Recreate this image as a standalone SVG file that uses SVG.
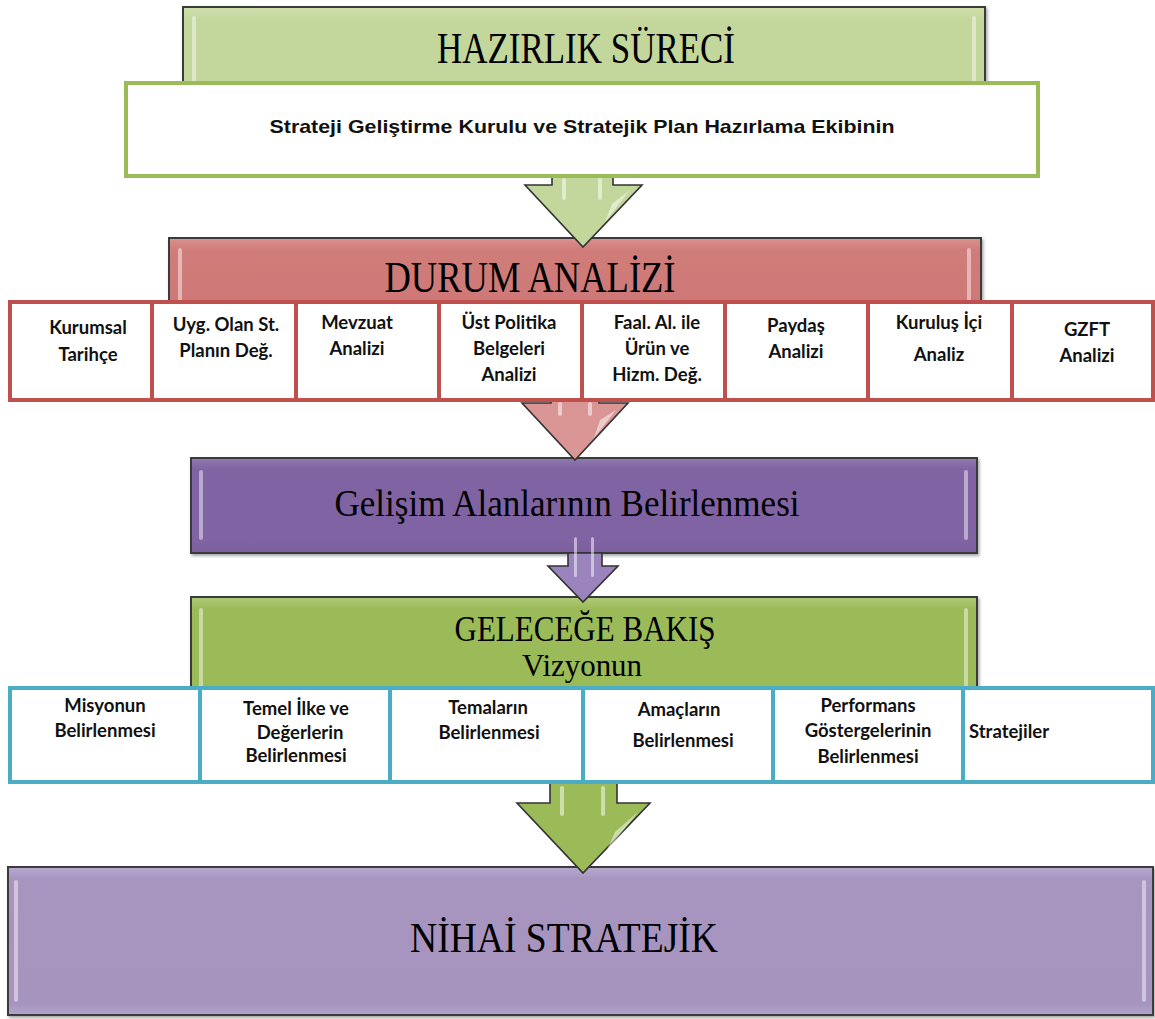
<svg xmlns="http://www.w3.org/2000/svg" width="1155" height="1019" viewBox="0 0 1155 1019">
<defs>
<style>
.title{font-family:"Liberation Serif","DejaVu Serif",serif;fill:#000;text-anchor:middle}
.lbl{font-family:Lato,"Open Sans",sans-serif;font-weight:700;font-size:18.5px;fill:#111}
.mainbox{stroke:#3a3a3a;stroke-width:2}
.hl{fill:#fff;opacity:.45}
.redcell{fill:#fff;stroke:#c0504d;stroke-width:4}
.cyancell{fill:#fff;stroke:#4bacc6;stroke-width:4}
.arrow{stroke:#333;stroke-width:1.6;stroke-linejoin:miter}
.shine{fill:#fff;opacity:.5}
</style>
<filter id="sh" x="-5%" y="-10%" width="110%" height="130%">
<feDropShadow dx="1.5" dy="2" stdDeviation="1.5" flood-opacity="0.35"/>
</filter>
<linearGradient id="gTop" x1="0" y1="0" x2="0" y2="1"><stop offset="0" stop-color="#d0e0ad"/><stop offset=".15" stop-color="#c3d69b"/><stop offset="1" stop-color="#c3d69b"/></linearGradient>
<linearGradient id="gRed" x1="0" y1="0" x2="0" y2="1"><stop offset="0" stop-color="#da9290"/><stop offset=".15" stop-color="#d07c7a"/><stop offset="1" stop-color="#cd7876"/></linearGradient>
<linearGradient id="gPur" x1="0" y1="0" x2="0" y2="1"><stop offset="0" stop-color="#9079b0"/><stop offset=".12" stop-color="#8064a2"/><stop offset=".88" stop-color="#8064a2"/><stop offset="1" stop-color="#7a5e9b"/></linearGradient>
<linearGradient id="gGrn" x1="0" y1="0" x2="0" y2="1"><stop offset="0" stop-color="#aecb76"/><stop offset=".12" stop-color="#9bbb59"/><stop offset="1" stop-color="#9bbb59"/></linearGradient>
<linearGradient id="gLav" x1="0" y1="0" x2="0" y2="1"><stop offset="0" stop-color="#b8a9cf"/><stop offset=".08" stop-color="#a795c0"/><stop offset=".92" stop-color="#a694bf"/><stop offset="1" stop-color="#b3a4cb"/></linearGradient>
</defs>

<g id="hazirlik">
<rect class="mainbox" x="183" y="7" width="802" height="90" fill="url(#gTop)" filter="url(#sh)"/>
<rect class="hl" x="192" y="16" width="4" height="70" rx="2"/>
<rect class="hl" x="972" y="16" width="4" height="70" rx="2"/>
<text class="title" x="586" y="63" font-size="45" textLength="298" lengthAdjust="spacingAndGlyphs">HAZIRLIK SÜRECİ</text>
</g>

<g id="durum">
<rect class="mainbox" x="169" y="238" width="812" height="80" fill="url(#gRed)" filter="url(#sh)"/>
<rect class="hl" x="178" y="248" width="4" height="54" rx="2"/>
<rect class="hl" x="967" y="248" width="4" height="54" rx="2"/>
<text class="title" x="530" y="292" font-size="45" textLength="291" lengthAdjust="spacingAndGlyphs">DURUM ANALİZİ</text>
</g>

<g id="gelisim">
<rect class="mainbox" x="191" y="458" width="786" height="95" fill="url(#gPur)" filter="url(#sh)"/>
<rect class="hl" x="199" y="470" width="4" height="70" rx="2"/>
<rect class="hl" x="964" y="470" width="4" height="70" rx="2"/>
<text class="title" x="567" y="516" font-size="38" textLength="465" lengthAdjust="spacingAndGlyphs">Gelişim Alanlarının Belirlenmesi</text>
</g>

<g id="gelecege">
<rect class="mainbox" x="191" y="597" width="786" height="100" fill="url(#gGrn)" filter="url(#sh)"/>
<rect class="hl" x="199" y="608" width="4" height="80" rx="2"/>
<rect class="hl" x="964" y="608" width="4" height="80" rx="2"/>
<text class="title" x="585" y="641" font-size="35" textLength="261" lengthAdjust="spacingAndGlyphs">GELECEĞE  BAKIŞ</text>
<text class="title" x="582" y="676" font-size="31" textLength="120" lengthAdjust="spacingAndGlyphs">Vizyonun</text>
</g>

<g id="nihai">
<rect class="mainbox" x="8" y="867" width="1145" height="148" fill="url(#gLav)" filter="url(#sh)"/>
<rect class="hl" x="14" y="880" width="4" height="122" rx="2"/>
<rect class="hl" x="1142" y="880" width="4" height="122" rx="2"/>
<text class="title" x="564" y="952" font-size="43" textLength="308" lengthAdjust="spacingAndGlyphs">NİHAİ STRATEJİK</text>
</g>

<g id="connectors">
<g id="arrow1">
<polygon class="arrow" points="552,165 613,165 613,185 642,185 583,247 525,185 552,185" fill="#c3d69b"/>
<rect class="shine" x="562" y="178" width="4" height="22" rx="2"/>
<rect class="shine" x="598" y="178" width="4" height="22" rx="2"/>
<path class="shine" d="M612,204 L630,190 L605,222 Z"/>
</g>
<g id="arrow2">
<polygon class="arrow" points="551,330 599,330 599,403 628,403 575,460 522,403 551,403" fill="#d99694"/>
<rect class="shine" x="558" y="402" width="4" height="14" rx="2"/>
<rect class="shine" x="588" y="402" width="4" height="14" rx="2"/>
<path class="shine" d="M600,420 L616,410 L594,438 Z"/>
</g>
<g id="arrow3">
<polygon class="arrow" points="568,553 602,553 602,566 618,566 583,602 548,566 568,566" fill="#9b84bd"/>
<rect class="shine" x="574" y="537" width="3" height="40" rx="1.5"/>
<rect class="shine" x="591" y="537" width="3" height="40" rx="1.5"/>
</g>
<g id="arrow4">
<polygon class="arrow" points="550,775 617,775 617,803 650,803 583,873 517,803 550,803" fill="#9bbb59"/>
<rect class="shine" x="560" y="786" width="4" height="30" rx="2"/>
<rect class="shine" x="601" y="786" width="4" height="30" rx="2"/>
<path class="shine" d="M615,832 L638,812 L606,852 Z"/>
</g>
</g>

<g id="strateji-box">
<rect x="126" y="83" width="912" height="93" fill="#fff" stroke="#9bbb59" stroke-width="4"/>
<text x="582" y="133" font-family="Liberation Sans, Arial, sans-serif" font-weight="700" font-size="18.5" text-anchor="middle" textLength="625" lengthAdjust="spacingAndGlyphs" fill="#111">Strateji Geliştirme Kurulu ve Stratejik Plan Hazırlama Ekibinin</text>
</g>

<g id="durum-row" text-anchor="middle">
<g id="kurumsal"><rect class="redcell" x="10" y="302" width="142" height="98"/><text class="lbl" x="88" y="334">Kurumsal</text><text class="lbl" x="88" y="361">Tarihçe</text></g>
<g id="uyg"><rect class="redcell" x="152" y="302" width="144" height="98"/><text class="lbl" x="226" y="331">Uyg. Olan St.</text><text class="lbl" x="226" y="357">Planın Değ.</text></g>
<g id="mevzuat"><rect class="redcell" x="296" y="302" width="143" height="98"/><text class="lbl" x="357" y="329">Mevzuat</text><text class="lbl" x="357" y="355">Analizi</text></g>
<g id="ust"><rect class="redcell" x="439" y="302" width="143" height="98"/><text class="lbl" x="509" y="329">Üst Politika</text><text class="lbl" x="509" y="355">Belgeleri</text><text class="lbl" x="509" y="381">Analizi</text></g>
<g id="faal"><rect class="redcell" x="582" y="302" width="143" height="98"/><text class="lbl" x="657" y="329">Faal. Al. ile</text><text class="lbl" x="657" y="355">Ürün ve</text><text class="lbl" x="657" y="381">Hizm. Değ.</text></g>
<g id="paydas"><rect class="redcell" x="725" y="302" width="143" height="98"/><text class="lbl" x="796" y="332">Paydaş</text><text class="lbl" x="796" y="358">Analizi</text></g>
<g id="kurulus"><rect class="redcell" x="868" y="302" width="144" height="98"/><text class="lbl" x="939" y="329">Kuruluş İçi</text><text class="lbl" x="939" y="361">Analiz</text></g>
<g id="gzft"><rect class="redcell" x="1012" y="302" width="141" height="98"/><text class="lbl" x="1087" y="336">GZFT</text><text class="lbl" x="1087" y="362">Analizi</text></g>
</g>

<g id="gelecek-row" text-anchor="middle">
<g id="misyon"><rect class="cyancell" x="10" y="688" width="190" height="94"/><text class="lbl" x="105" y="712">Misyonun</text><text class="lbl" x="105" y="737">Belirlenmesi</text></g>
<g id="temel"><rect class="cyancell" x="200" y="688" width="190" height="94"/><text class="lbl" x="296" y="715">Temel İlke ve</text><text class="lbl" x="300" y="739">Değerlerin</text><text class="lbl" x="296" y="762">Belirlenmesi</text></g>
<g id="temalar"><rect class="cyancell" x="390" y="688" width="193" height="94"/><text class="lbl" x="488" y="714">Temaların</text><text class="lbl" x="489" y="739">Belirlenmesi</text></g>
<g id="amaclar"><rect class="cyancell" x="583" y="688" width="190" height="94"/><text class="lbl" x="679" y="716">Amaçların</text><text class="lbl" x="683" y="747">Belirlenmesi</text></g>
<g id="performans"><rect class="cyancell" x="773" y="688" width="190" height="94"/><text class="lbl" x="868" y="712">Performans</text><text class="lbl" x="868" y="737">Göstergelerinin</text><text class="lbl" x="868" y="763">Belirlenmesi</text></g>
<g id="stratejiler"><rect class="cyancell" x="963" y="688" width="190" height="94"/><text class="lbl" x="969" y="738" text-anchor="start">Stratejiler</text></g>
</g>
</svg>
